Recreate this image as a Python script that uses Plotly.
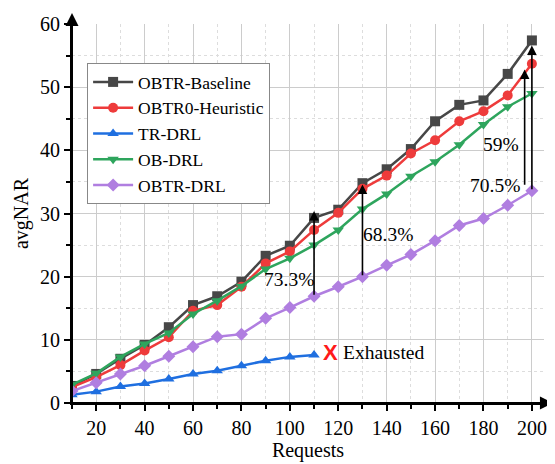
import plotly.graph_objects as go

requests = [10, 20, 30, 40, 50, 60, 70, 80, 90, 100, 110, 120, 130, 140, 150, 160, 170, 180, 190, 200]
obtr_baseline = [2.7, 4.6, 7.0, 9.2, 12.0, 15.5, 16.9, 19.2, 23.3, 24.9, 29.3, 30.6, 34.8, 37.0, 40.2, 44.6, 47.2, 47.9, 52.1, 57.4]
obtr0_heuristic = [2.5, 4.1, 6.0, 8.3, 10.4, 14.6, 15.5, 18.4, 22.1, 24.0, 27.4, 30.1, 33.9, 36.0, 39.5, 41.6, 44.6, 46.2, 48.7, 53.7]
tr_requests = [10, 20, 30, 40, 50, 60, 70, 80, 90, 100, 110]
tr_drl = [1.3, 1.8, 2.6, 3.1, 3.8, 4.6, 5.1, 5.9, 6.7, 7.3, 7.6]
ob_drl = [2.9, 4.7, 7.3, 9.35, 11.1, 14.1, 16.2, 18.5, 21.2, 22.9, 25.0, 27.4, 30.7, 33.1, 35.9, 38.2, 40.9, 44.1, 46.9, 49.0]
obtr_drl = [1.9, 3.2, 4.6, 5.9, 7.4, 8.9, 10.5, 10.9, 13.4, 15.1, 16.9, 18.4, 20.0, 21.8, 23.5, 25.7, 28.1, 29.2, 31.3, 33.6]

# improvement arrows
arrow_x = [110, 130, 197, 200]
arrow_from = [16.9, 20.0, 34.3, 33.6]
arrow_to = [30.4, 34.6, 52.8, 56.6]

# labels
label_text = ["73.3%", "68.3%", "59%", "70.5%"]
label_x = [99.7, 140.6, 187.1, 184.9]
label_y = [19.5, 26.6, 40.9, 34.4]

x_ticks = [20, 40, 60, 80, 100, 120, 140, 160, 180, 200]
y_ticks = [0, 10, 20, 30, 40, 50, 60]

FONT = "Liberation Serif"

series = [
    ("OBTR-Baseline", requests, obtr_baseline, "#474747", "square"),
    ("OBTR0-Heuristic", requests, obtr0_heuristic, "#ee3b3b", "circle"),
    ("TR-DRL", tr_requests, tr_drl, "#1f6fe0", "triangle-up"),
    ("OB-DRL", requests, ob_drl, "#2ea55d", "triangle-down"),
    ("OBTR-DRL", requests, obtr_drl, "#b07ee0", "diamond"),
]

fig = go.Figure()
for name, xs, ys, color, sym in series:
    fig.add_trace(go.Scatter(
        x=xs, y=ys, name=name, mode="lines+markers",
        line=dict(color=color, width=2.5),
        marker=dict(symbol=sym, size=10, color=color),
    ))

annotations = []
for xa, y0, y1 in zip(arrow_x, arrow_from, arrow_to):
    annotations.append(dict(
        x=xa, y=y1, ax=xa, ay=y0, xref="x", yref="y", axref="x", ayref="y",
        text="", showarrow=True, arrowhead=2, arrowsize=1.2, arrowwidth=1.6,
        arrowcolor="black",
    ))
for t, lx, ly in zip(label_text, label_x, label_y):
    annotations.append(dict(
        x=lx, y=ly, xref="x", yref="y", text=t, showarrow=False,
        font=dict(family=FONT, size=19.5, color="black"),
    ))
annotations.append(dict(
    x=117, y=8.0, xref="x", yref="y", text="<b>X</b>", showarrow=False,
    font=dict(family="Liberation Sans", size=22, color="#ff1a1a"),
))
annotations.append(dict(
    x=121, y=8.0, xref="x", yref="y", text="Exhausted", showarrow=False,
    xanchor="left", font=dict(family=FONT, size=19.5, color="black"),
))
# axis arrows
annotations.append(dict(
    x=0, y=1.029, xref="paper", yref="paper", ax=0, ay=392,
    text="", showarrow=True, arrowhead=2, arrowsize=1.3, arrowwidth=2,
    arrowcolor="black",
))
annotations.append(dict(
    x=1.019, y=0, xref="paper", yref="paper", ax=-482, ay=0,
    text="", showarrow=True, arrowhead=2, arrowsize=1.3, arrowwidth=2,
    arrowcolor="black",
))

fig.update_layout(
    width=547, height=456,
    margin=dict(l=64, r=11, t=16, b=61),
    paper_bgcolor="white", plot_bgcolor="white",
    font=dict(family=FONT, size=20, color="black"),
    showlegend=True,
    legend=dict(
        x=0.032, y=0.897, xanchor="left", yanchor="top",
        bgcolor="white", bordercolor="#888888", borderwidth=1,
        font=dict(family=FONT, size=17.5, color="black"),
        tracegroupgap=0, itemwidth=40,
    ),
    annotations=annotations,
    xaxis=dict(
        range=[10, 205], tickvals=x_ticks, ticks="outside", ticklen=6,
        tickcolor="black", tickwidth=1.5, automargin=False,
        showline=True, linecolor="black", linewidth=2,
        showgrid=True, gridcolor="#cccccc", gridwidth=1,
        minor=dict(dtick=10, tick0=0, ticks="outside", ticklen=4, tickcolor="black",
                   showgrid=True, gridcolor="#dddddd", griddash="dot"),
        zeroline=False,
        title=dict(text="Requests", font=dict(family=FONT, size=20), standoff=4),
        tickfont=dict(family=FONT, size=20),
    ),
    yaxis=dict(
        range=[0, 60], tickvals=y_ticks, ticks="outside", ticklen=6,
        tickcolor="black", tickwidth=1.5, automargin=False,
        showline=True, linecolor="black", linewidth=2,
        showgrid=True, gridcolor="#cccccc", gridwidth=1,
        minor=dict(dtick=5, tick0=0, ticks="outside", ticklen=4, tickcolor="black",
                   showgrid=True, gridcolor="#dddddd", griddash="dot"),
        zeroline=False,
        title=dict(text="avgNAR", font=dict(family=FONT, size=20), standoff=6),
        tickfont=dict(family=FONT, size=20),
    ),
)

fig.write_html("out.html")
